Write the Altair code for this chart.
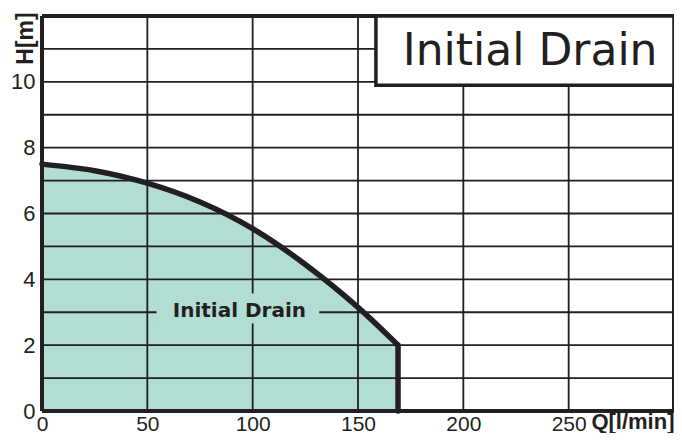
import altair as alt
import pandas as pd

# ---- data ----
flow = [0, 25, 50, 75, 100, 125, 150, 169]            # Q [l/min]
head = [7.5, 7.3, 6.92, 6.35, 5.54, 4.45, 3.15, 2.0]  # H [m]
end_q = [169]
end_h = [2.0]

x_labels = [0, 50, 100, 150, 200, 250]
y_labels = [0, 2, 4, 6, 8, 10]
x_grid = [50, 100, 150, 200, 250]
y_grid = [1, 2, 3, 4, 5, 6, 7, 8, 9, 10, 11]
x_border = [0, 300]
y_border = [0, 12]

series_name = "Initial Drain"
box_title = "Initial Drain"
# annotation placement (data coords)
label_pos = {"Q": [93.7], "H": [2.87]}
label_bg = {"Q": [54.4], "Q2": [131.6], "H": [2.66], "H2": [3.57]}
box_pos = {"Q": [158.5], "Q2": [300], "H": [9.9], "H2": [12]}
box_text_pos = {"Q": [231.7], "H": [10.5]}

INK = "#231f20"
FILL = "#b2ddd3"
W, H = 632, 395

xs = alt.Scale(domain=[0, 300], nice=False, zero=False)
ys = alt.Scale(domain=[0, 12], nice=False, zero=False)

curve = pd.DataFrame({"Q": flow, "H": head})

x_axis = alt.Axis(values=x_labels, grid=False, domain=False, ticks=False,
                  labelFont="Liberation Sans", labelFontSize=21, labelColor=INK,
                  labelPadding=2, labelFlush=False,
                  title="Q[l/min]", titleFont="Liberation Sans", titleFontSize=22,
                  titleFontWeight="bold", titleColor=INK, titleAnchor="end",
                  titleAlign="right", titleBaseline="alphabetic", titleX=632, titleY=17)
y_axis = alt.Axis(values=y_labels, grid=False, domain=False, ticks=False,
                  labelFont="Liberation Sans", labelFontSize=22, labelColor=INK,
                  labelPadding=7, labelFlush=False,
                  title="H[m]", titleFont="Liberation Sans", titleFontSize=23,
                  titleFontWeight="bold", titleColor=INK, titleAngle=270,
                  titleAlign="center", titleBaseline="middle", titleX=-17, titleY=22)


def X(field):
    return alt.X(field, scale=xs, axis=x_axis, title="Q[l/min]")


def Y(field):
    return alt.Y(field, scale=ys, axis=y_axis, title="H[m]")


area = alt.Chart(curve).mark_area(interpolate="natural", color=FILL, opacity=1).encode(
    x=X("Q:Q"), y=Y("H:Q"))

vgrid = alt.Chart(pd.DataFrame({"Q": x_grid})).mark_rule(color=INK, strokeWidth=1.8).encode(
    x=X("Q:Q"))
hgrid = alt.Chart(pd.DataFrame({"H": y_grid})).mark_rule(color=INK, strokeWidth=1.8).encode(
    y=Y("H:Q"))

line = alt.Chart(curve).mark_line(interpolate="natural", color=INK, strokeWidth=5.5,
                                  strokeCap="round", strokeJoin="round").encode(
    x=X("Q:Q"), y=Y("H:Q"))

drop = alt.Chart(pd.DataFrame({"Q": end_q, "H": end_h})).mark_rule(
    color=INK, strokeWidth=5.5, strokeCap="round").encode(
    x=X("Q:Q"), y=Y("H:Q"), y2=alt.datum(0))

lbg = alt.Chart(pd.DataFrame(label_bg)).mark_rect(color=FILL, opacity=1).encode(
    x=X("Q:Q"), x2="Q2:Q", y=Y("H:Q"), y2="H2:Q")
ltxt = alt.Chart(pd.DataFrame(label_pos)).mark_text(
    text=series_name, font="DejaVu Sans", fontWeight="bold", fontSize=20,
    color=INK, align="center", baseline="alphabetic").encode(
    x=X("Q:Q"), y=Y("H:Q"))

vborder = alt.Chart(pd.DataFrame({"Q": x_border})).mark_rule(color=INK, strokeWidth=4).encode(
    x=X("Q:Q"))
hborder = alt.Chart(pd.DataFrame({"H": y_border})).mark_rule(color=INK, strokeWidth=4).encode(
    y=Y("H:Q"))

box = alt.Chart(pd.DataFrame(box_pos)).mark_rect(fill="white", stroke=INK, strokeWidth=3.5).encode(
    x=X("Q:Q"), x2="Q2:Q", y=Y("H:Q"), y2="H2:Q")
btxt = alt.Chart(pd.DataFrame(box_text_pos)).mark_text(
    text=box_title, font="DejaVu Sans", fontSize=44, color=INK,
    align="center", baseline="alphabetic").encode(
    x=X("Q:Q"), y=Y("H:Q"))

chart = alt.layer(area, vgrid, hgrid, line, drop, lbg, ltxt, vborder, hborder, box, btxt).properties(
    width=W, height=H,
    autosize=alt.AutoSizeParams(type="none"),
    padding={"left": 34, "top": 8, "right": 0, "bottom": 22},
).configure_view(stroke=None).configure(background="white")

chart.save("out.html", embed_options={"renderer": "svg", "actions": False})
